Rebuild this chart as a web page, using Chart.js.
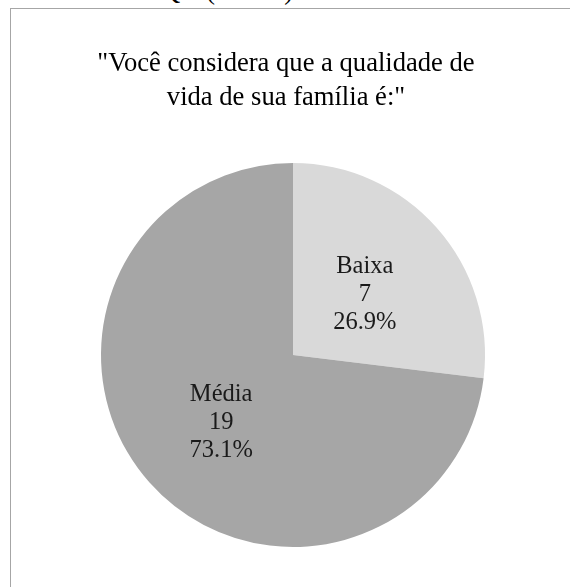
<!DOCTYPE html>
<html>
<head>
<meta charset="utf-8">
<script src="https://cdn.jsdelivr.net/npm/chart.js@4/dist/chart.umd.min.js"></script>
<style>
  html, body { margin: 0; padding: 0; background: #fff; overflow: hidden; }
  body { width: 570px; height: 587px; position: relative; }
  #caption {
    position: absolute; left: 0; top: -23px; width: 300px;
    font: 27px "Liberation Serif", "Times New Roman", serif;
    line-height: 27px; text-align: right; white-space: nowrap; color: #000;
  }
  #frame {
    position: absolute; left: 10px; top: 8px; width: 600px; height: 620px;
    border: 1px solid #a6a6a6; box-sizing: border-box;
  }
  #wrap { position: absolute; left: 11px; top: 9px; width: 550px; height: 578px; }
</style>
</head>
<body>
<div id="caption">da escore a QV (n = 26).</div>
<div id="frame"></div>
<div id="wrap"><canvas id="chart"></canvas></div>
<script>
// Dados do gráfico
const titleLines = ['"Você considera que a qualidade de', 'vida de sua família é:"'];
const categories = ['Baixa', 'Média'];
const counts = [7, 19];
const percents = ['26.9%', '73.1%'];
const sliceColors = ['#d9d9d9', '#a6a6a6'];

const SERIF = '"Liberation Serif", "Times New Roman", serif';

// Título centrado no quadro inteiro (a pizza fica um pouco à direita)
const frameTitle = {
    id: 'frameTitle',
    afterDraw(chart) {
        const ctx = chart.ctx;
        ctx.save();
        ctx.font = '26.6px ' + SERIF;
        ctx.fillStyle = '#000';
        ctx.textAlign = 'center';
        ctx.textBaseline = 'middle';
        titleLines.forEach((txt, k) => {
            ctx.fillText(txt, chart.width / 2, 55 + k * 34);
        });
        ctx.restore();
    }
};

// Rótulos dentro das fatias: categoria, contagem e percentagem
const sliceLabels = {
    id: 'sliceLabels',
    afterDatasetsDraw(chart) {
        const ctx = chart.ctx;
        const meta = chart.getDatasetMeta(0);
        ctx.save();
        ctx.font = '24.5px ' + SERIF;
        ctx.fillStyle = '#1a1a1a';
        ctx.textAlign = 'center';
        ctx.textBaseline = 'middle';
        meta.data.forEach((arc, i) => {
            const pos = arc.tooltipPosition();
            const lines = [categories[i], String(counts[i]), percents[i]];
            lines.forEach((txt, k) => {
                ctx.fillText(txt, pos.x, pos.y + 3.5 + (k - 1) * 28);
            });
        });
        ctx.restore();
    }
};

new Chart(document.getElementById('chart'), {
    type: 'pie',
    data: {
        labels: categories,
        datasets: [{
            data: counts,
            backgroundColor: sliceColors,
            borderWidth: 0
        }]
    },
    options: {
        responsive: true,
        maintainAspectRatio: false,
        animation: false,
        layout: { padding: { left: 14, right: 0, top: 154, bottom: 40 } },
        plugins: {
            legend: { display: false },
            tooltip: { enabled: false },
            title: { display: false }
        }
    },
    plugins: [sliceLabels, frameTitle]
});
</script>
</body>
</html>
